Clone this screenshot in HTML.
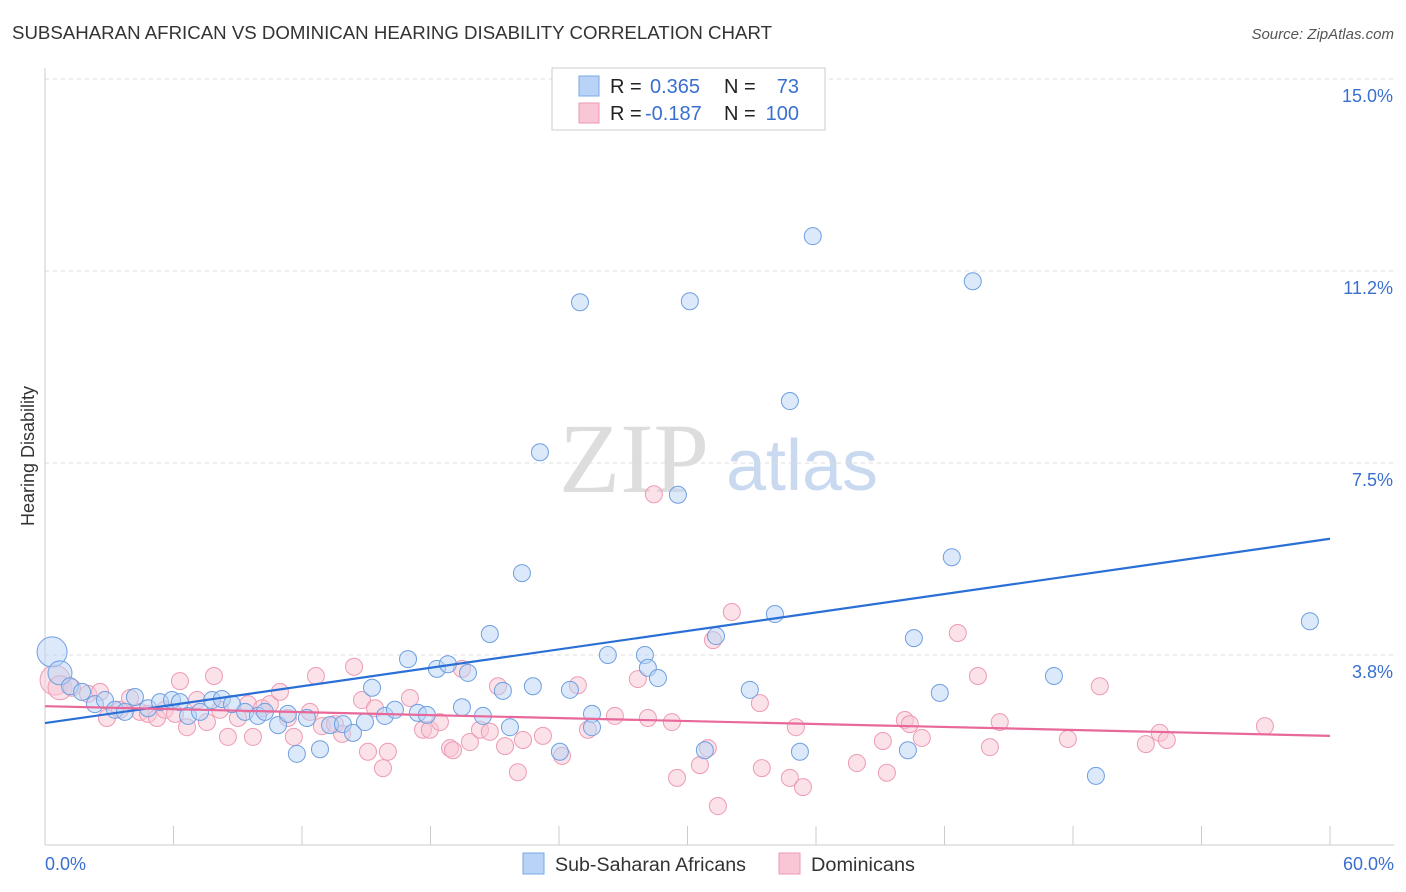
<!DOCTYPE html>
<html><head><meta charset="utf-8"><style>
body{margin:0;background:#fff;font-family:"Liberation Sans",sans-serif;}
svg{display:block}
</style></head><body>
<svg id="chart" width="1406" height="892" viewBox="0 0 1406 892">
<text x="12" y="39" font-size="18" fill="#333" textLength="760" lengthAdjust="spacingAndGlyphs">SUBSAHARAN AFRICAN VS DOMINICAN HEARING DISABILITY CORRELATION CHART</text>
<text x="1394" y="39" font-size="15" fill="#555" font-style="italic" text-anchor="end">Source: ZipAtlas.com</text>
<text transform="translate(34,456) rotate(-90)" font-size="18" fill="#333" text-anchor="middle">Hearing Disability</text>
<g>
<text x="634" y="492" font-size="100" fill="#ddd" font-family="Liberation Serif,serif" text-anchor="middle">ZIP</text>
<text x="802" y="490" font-size="72" fill="#c9daf0" text-anchor="middle">atlas</text>
</g>
<g id="grid"></g>
<g id="axes"></g>
<g id="points"></g>
<g id="trends"></g>
<g>
<rect x="552" y="68" width="273" height="62" fill="#fff" stroke="#ccc"/>
<rect x="579" y="76" width="20" height="20" fill="#b8d3f5" stroke="#7aa8e8"/>
<rect x="579" y="103" width="20" height="20" fill="#f8c6d4" stroke="#ee9ab3"/>
<text x="610" y="93" font-size="20" fill="#222">R = </text><text x="650" y="93" font-size="20" fill="#3a6fd0">0.365</text>
<text x="724" y="93" font-size="20" fill="#222">N = </text><text x="799" y="93" font-size="20" fill="#3a6fd0" text-anchor="end">73</text>
<text x="610" y="120" font-size="20" fill="#222">R = </text><text x="645" y="120" font-size="20" fill="#3a6fd0">-0.187</text>
<text x="724" y="120" font-size="20" fill="#222">N = </text><text x="799" y="120" font-size="20" fill="#3a6fd0" text-anchor="end">100</text>
</g>
<g>
<rect x="523" y="853" width="21" height="21" fill="#b8d3f5" stroke="#7aa8e8"/>
<text x="555" y="871" font-size="19" fill="#333" textLength="191" lengthAdjust="spacingAndGlyphs">Sub-Saharan Africans</text>
<rect x="779" y="853" width="21" height="21" fill="#f8c6d4" stroke="#ee9ab3"/>
<text x="811" y="871" font-size="19" fill="#333" textLength="104" lengthAdjust="spacingAndGlyphs">Dominicans</text>
</g>
</svg>
<script>
const yTicks=[3.75,7.5,11.25,15];
const yTickLabels=["3.8%","7.5%","11.2%","15.0%"];
const xTickVals=[0,6,12,18,24,30,36,42,48,54,60];
const xEndLabels=["0.0%","60.0%"];
const blueX=[0.33,0.70,1.17,1.73,2.33,2.80,3.27,3.73,4.20,4.81,5.37,5.93,6.30,6.68,7.24,7.80,8.26,8.73,9.34,9.94,10.27,10.88,11.34,11.76,12.23,12.84,13.31,13.91,14.38,14.94,15.27,15.87,16.34,16.95,17.41,17.83,18.30,18.81,19.47,19.75,20.45,20.77,21.38,21.71,22.27,22.78,23.11,24.04,24.51,24.98,25.54,25.54,26.28,28.01,28.15,28.62,29.55,30.11,30.81,31.33,32.91,34.08,34.78,35.25,35.85,40.29,40.57,41.78,42.34,43.32,47.11,49.07,59.06];
const blueY=[3.81,3.40,3.14,3.03,2.79,2.87,2.68,2.64,2.93,2.71,2.83,2.87,2.83,2.56,2.64,2.87,2.89,2.79,2.64,2.56,2.64,2.38,2.60,1.82,2.52,1.91,2.38,2.40,2.23,2.44,3.11,2.56,2.68,3.67,2.62,2.58,3.48,3.57,2.73,3.40,2.56,4.16,3.05,2.34,5.35,3.14,7.71,1.86,3.07,10.64,2.60,2.34,3.75,3.75,3.50,3.30,6.88,10.66,1.89,4.12,3.07,4.55,8.71,1.86,11.93,1.89,4.08,3.01,5.66,11.05,3.34,1.39,4.41];
const pinkX=[0.47,0.70,1.26,2.01,2.57,2.89,3.50,3.97,4.44,4.81,5.23,5.60,6.07,6.30,6.63,7.10,7.56,7.89,8.17,8.54,9.01,9.48,9.71,10.13,10.50,10.97,11.34,11.62,12.37,12.65,12.93,13.54,13.87,14.43,14.80,15.08,15.41,15.78,16.01,17.04,17.65,17.97,18.44,18.91,19.05,19.47,19.84,20.31,20.77,21.15,21.48,22.08,22.32,23.25,24.14,24.88,25.35,26.61,27.68,28.15,28.43,29.27,29.51,30.58,30.95,31.19,31.42,32.07,33.38,33.47,34.78,35.06,35.39,37.91,39.12,39.31,40.15,40.38,40.94,42.62,43.56,44.12,44.58,47.76,49.25,51.40,52.05,52.38,56.96];
const pinkY=[3.26,3.11,3.11,2.99,3.03,2.52,2.68,2.91,2.64,2.60,2.52,2.68,2.60,3.24,2.34,2.87,2.44,3.34,2.68,2.15,2.52,2.79,2.15,2.71,2.79,3.03,2.52,2.15,2.64,3.34,2.36,2.40,2.21,3.52,2.87,1.86,2.71,1.54,1.86,2.91,2.29,2.29,2.44,1.93,1.89,3.48,2.05,2.29,2.25,3.14,1.97,1.46,2.09,2.17,1.78,3.16,2.29,2.56,3.28,2.52,6.89,2.44,1.35,1.60,1.93,4.04,0.80,4.59,2.81,1.54,1.35,2.34,1.17,1.64,2.07,1.45,2.48,2.40,2.13,4.18,3.34,1.95,2.44,2.11,3.14,2.01,2.23,2.09,2.36];
const blueTrend=[2.42,6.02];
const pinkTrend=[2.75,2.17];
const NS='http://www.w3.org/2000/svg';
const X0=45,X1=1330,Y0=847,PXY=51.2;
function sx(v){return X0+(X1-X0)*v/60;}
function sy(v){return Y0-v*PXY;}
function mk(t,a,p){const e=document.createElementNS(NS,t);for(const k in a)e.setAttribute(k,a[k]);p.appendChild(e);return e;}
const grid=document.getElementById('grid'),axes=document.getElementById('axes'),pts=document.getElementById('points'),tr=document.getElementById('trends');
yTicks.forEach((v,i)=>{
 const l=mk('line',{x1:X0,x2:1394,y1:sy(v),y2:sy(v),stroke:'#ddd','stroke-dasharray':'4,4'},grid);
 
 
 const t=mk('text',{x:1393,y:sy(v)+23,'font-size':18,fill:'#3a6fd0','text-anchor':'end'},axes);
 t.textContent=yTickLabels[i];
 
 
});
const ya=mk('line',{x1:X0,x2:X0,y1:68,y2:845,stroke:'#ccc'},axes);


const xa=mk('line',{x1:X0,x2:1394,y1:845,y2:845,stroke:'#ccc'},axes);


xTickVals.forEach(v=>{
 const l=mk('line',{x1:sx(v),x2:sx(v),y1:826,y2:845,stroke:'#ccc'},axes);
 
 
});
[[0,'start',45],[60,'end',1394]].forEach((d,i)=>{
 const t=mk('text',{x:d[2],y:870,'font-size':18,fill:'#3a6fd0','text-anchor':d[1]},axes);
 t.textContent=xEndLabels[i];
 
 
});
function drawPts(xs,ys,fill,stroke,name){
 xs.forEach((x,i)=>{
  const r=i<2&&x<1?(i==0?15:12):8.5;
  const c=mk('circle',{cx:sx(x),cy:sy(ys[i]),r:r,fill:fill,'fill-opacity':0.5,stroke:stroke,'stroke-width':1},pts);
  
  
 });
}
drawPts(pinkX,pinkY,'#f8c6d4','#ee9ab3','dominican-point');
drawPts(blueX,blueY,'#b8d3f5','#6f9fe0','subsaharan-point');
const bl=mk('line',{x1:sx(0),y1:sy(blueTrend[0]),x2:sx(60),y2:sy(blueTrend[1]),stroke:'#2a6fd6','stroke-width':2.2},tr);


const pl=mk('line',{x1:sx(0),y1:sy(pinkTrend[0]),x2:sx(60),y2:sy(pinkTrend[1]),stroke:'#e8689a','stroke-width':2.2},tr);


</script>
</body></html>
